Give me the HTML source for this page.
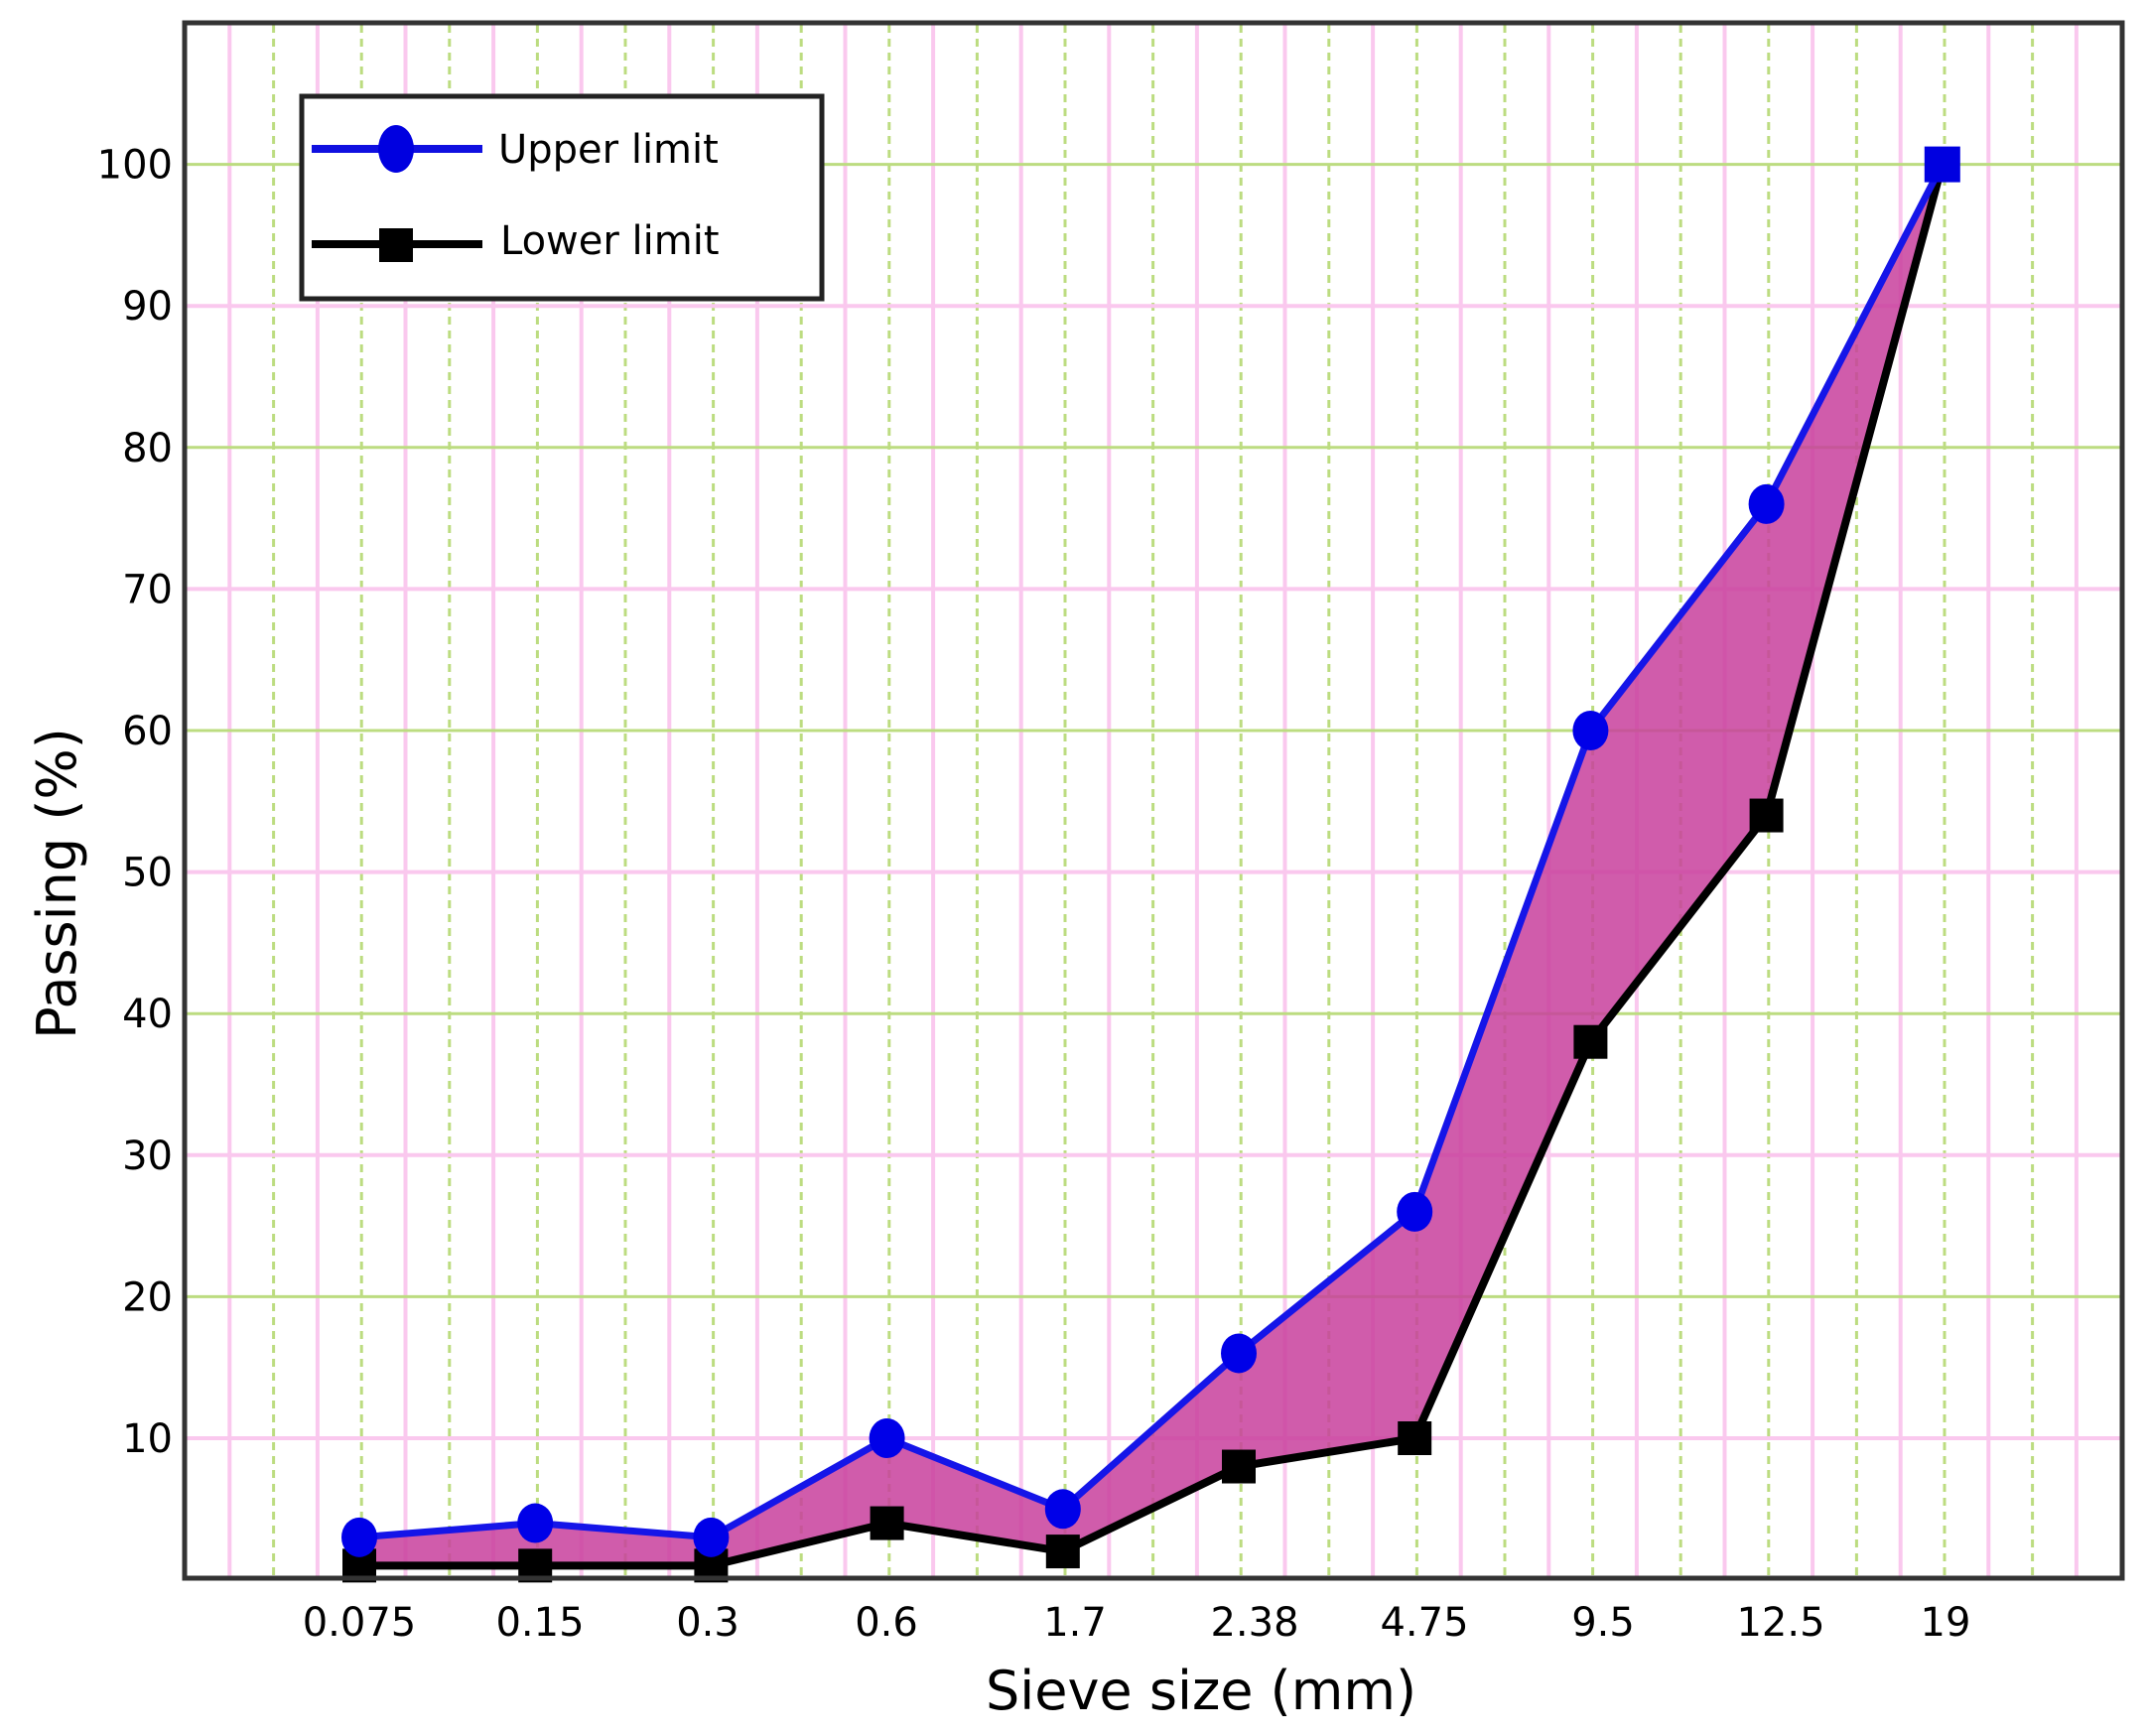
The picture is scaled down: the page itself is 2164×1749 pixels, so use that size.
<!DOCTYPE html>
<html><head><meta charset="utf-8"><style>html,body{margin:0;padding:0;background:#fff}</style></head>
<body>
<svg width="2164" height="1744" viewBox="0 0 2164 1744" xmlns="http://www.w3.org/2000/svg" font-family="'DejaVu Sans','Liberation Sans',sans-serif">
<rect width="2164" height="1744" fill="#fff"/>
<g id="grid"></g>
<g id="plot"></g>
<rect x="186" y="23" width="1952" height="1567" fill="none" stroke="#333" stroke-width="5"/>
<g font-size="40" fill="#000" text-anchor="end" id="yt"></g>
<g font-size="40" fill="#000" text-anchor="middle" id="xt"></g>
<text x="1210" y="1722" font-size="54" text-anchor="middle">Sieve size (mm)</text>
<text transform="translate(76,890) rotate(-90)" font-size="54" text-anchor="middle">Passing (%)</text>
<rect x="304" y="97" width="524" height="204" fill="#fff" stroke="#222" stroke-width="5"/>
<line x1="314" y1="150" x2="486" y2="150" stroke="#1010e0" stroke-width="8"/>
<ellipse cx="399" cy="150" rx="18" ry="24" fill="#0000e0"/>
<text x="502" y="164" font-size="40">Upper limit</text>
<line x1="314" y1="246" x2="486" y2="246" stroke="#000" stroke-width="8"/>
<rect x="382" y="230" width="34" height="34" fill="#000"/>
<text x="504" y="256" font-size="40">Lower limit</text>
<script>
var ns="http://www.w3.org/2000/svg";
function el(p,t,a,txt){var e=document.createElementNS(ns,t);for(var k in a)e.setAttribute(k,a[k]);if(txt!==undefined)e.textContent=txt;p.appendChild(e);return e;}
var g=document.getElementById('grid');
function Y(v){return 1591.6-14.26*v;}
var GC='#bcdc80', PC='#fac8ee';
for(var x=1959;x>190;x-=88.6){
 el(g,'line',{x1:x,y1:25,x2:x,y2:1588,stroke:GC,'stroke-width':3,'stroke-dasharray':'8 6'});
 var px=x-44.3; if(px>190) el(g,'line',{x1:px,y1:25,x2:px,y2:1588,stroke:PC,'stroke-width':4});
}
x=1959+88.6; el(g,'line',{x1:x,y1:25,x2:x,y2:1588,stroke:GC,'stroke-width':3,'stroke-dasharray':'8 6'});
el(g,'line',{x1:x-44.3,y1:25,x2:x-44.3,y2:1588,stroke:PC,'stroke-width':4});
el(g,'line',{x1:x+44.3,y1:25,x2:x+44.3,y2:1588,stroke:PC,'stroke-width':4});
for(var v=10;v<=100;v+=10){
 var y=Y(v);
 if(v%20==0) el(g,'line',{x1:188,y1:y,x2:2136,y2:y,stroke:GC,'stroke-width':3});
 else el(g,'line',{x1:188,y1:y,x2:2136,y2:y,stroke:PC,'stroke-width':4});
}
var yt=document.getElementById('yt');
for(v=10;v<=100;v+=10) el(yt,'text',{x:174,y:Y(v)+14},String(v));
var xl=['0.075','0.15','0.3','0.6','1.7','2.38','4.75','9.5','12.5','19'];
var xlx=[362,544,713,893,1083,1264,1435,1615,1794,1960];
var xt=document.getElementById('xt');
for(var i=0;i<10;i++) el(xt,'text',{x:xlx[i],y:1648},xl[i]);
var up=[3,4,3,10,5,16,26,60,76,100], lo=[1,1,1,4,2,8,10,38,54,100];
var P=document.getElementById('plot');
function X(i){return 362+177.2*i;}
var d='M';for(i=0;i<10;i++)d+=X(i)+','+Y(up[i])+' ';
for(i=9;i>=0;i--)d+=X(i)+','+Y(lo[i])+' ';
el(P,'path',{d:d+'Z',fill:'#c8409c','fill-opacity':0.85});
var pu='',pl='';for(i=0;i<10;i++){pu+=X(i)+','+Y(up[i])+' ';pl+=X(i)+','+Y(lo[i])+' ';}
el(P,'polyline',{points:pl,fill:'none',stroke:'#000','stroke-width':8});
el(P,'polyline',{points:pu,fill:'none',stroke:'#1515e8','stroke-width':7});
for(i=0;i<10;i++){
 el(P,'rect',{x:X(i)-17,y:Y(lo[i])-17,width:34,height:34,fill:'#000'});
}
for(i=0;i<9;i++) el(P,'ellipse',{cx:X(i),cy:Y(up[i]),rx:18,ry:20,fill:'#0000e8'});
el(P,'rect',{x:X(9)-18,y:Y(100)-18,width:36,height:36,fill:'#0000e0'});
</script>
</svg>
</body></html>
